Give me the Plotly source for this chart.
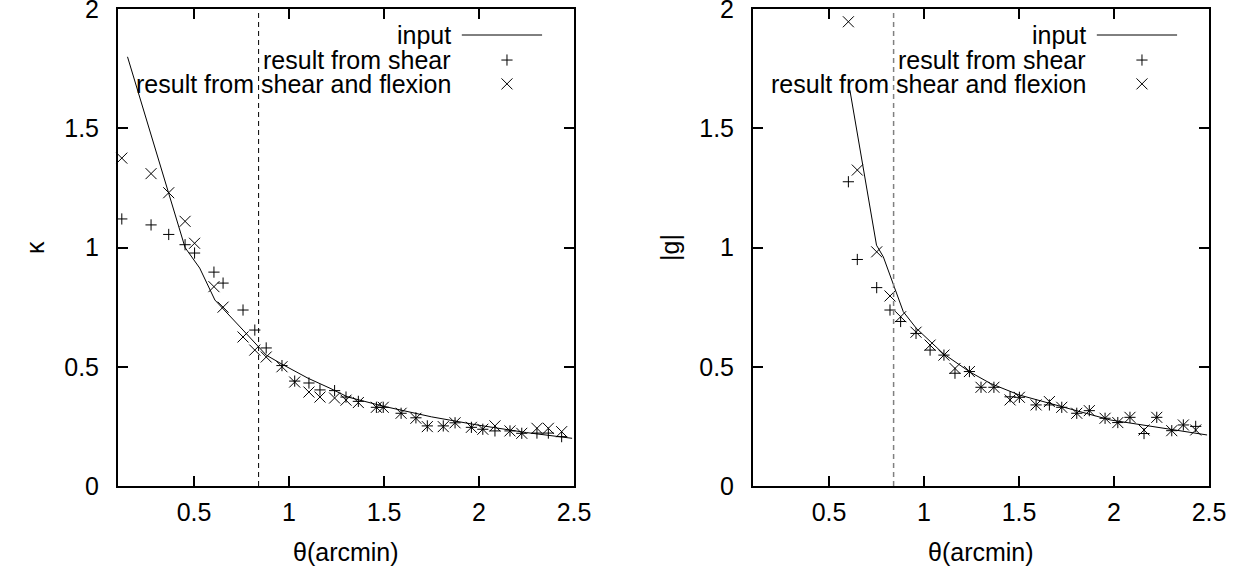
import plotly.graph_objects as go

# --- convergence profile (left panel) ---
theta_k = [0.12, 0.274, 0.367, 0.453, 0.503, 0.605, 0.653, 0.758, 0.82, 0.88, 0.963,
           1.03, 1.105, 1.163, 1.24, 1.30, 1.365, 1.46, 1.496, 1.59, 1.668, 1.728,
           1.812, 1.874, 1.96, 2.02, 2.084, 2.163, 2.225, 2.305, 2.365, 2.435]
kappa_shear = [1.12, 1.095, 1.055, 1.012, 0.977, 0.897, 0.851, 0.738, 0.654, 0.579, 0.505,
               0.44, 0.432, 0.403, 0.40, 0.373, 0.355, 0.33, 0.33, 0.305, 0.286, 0.252,
               0.252, 0.265, 0.246, 0.238, 0.231, 0.231, 0.221, 0.222, 0.222, 0.207]
kappa_flex = [1.375, 1.31, 1.23, 1.11, 1.018, 0.836, 0.75, 0.625, 0.57, 0.541, 0.5,
              0.436, 0.394, 0.373, 0.369, 0.36, 0.35, 0.33, 0.33, 0.305, 0.284, 0.249,
              0.249, 0.265, 0.246, 0.238, 0.252, 0.231, 0.221, 0.242, 0.242, 0.228]
theta_k_in = [0.15, 0.453, 0.53, 0.61, 0.758, 0.837, 0.88, 0.963, 1.1, 1.216, 1.31,
              1.5, 1.75, 1.99, 2.25, 2.49]
kappa_in = [1.80, 1.0, 0.914, 0.78, 0.654, 0.587, 0.549, 0.511, 0.452, 0.41, 0.373,
            0.334, 0.29, 0.256, 0.224, 0.2]

# --- reduced shear profile (right panel) ---
theta_g = [0.602, 0.649, 0.751, 0.821, 0.877, 0.958, 1.032, 1.105, 1.163, 1.239, 1.30,
           1.368, 1.453, 1.502, 1.59, 1.66, 1.725, 1.804, 1.87, 1.953, 2.02, 2.084,
           2.158, 2.225, 2.304, 2.365, 2.43]
g_shear = [1.276, 0.95, 0.832, 0.738, 0.69, 0.64, 0.57, 0.549, 0.473, 0.48, 0.414,
           0.414, 0.374, 0.372, 0.34, 0.34, 0.33, 0.305, 0.316, 0.284, 0.266, 0.288,
           0.22, 0.288, 0.232, 0.256, 0.25]
g_flex = [1.947, 1.325, 0.982, 0.797, 0.71, 0.645, 0.591, 0.549, 0.493, 0.48, 0.414,
          0.414, 0.361, 0.372, 0.34, 0.354, 0.33, 0.305, 0.316, 0.284, 0.266, 0.288,
          0.235, 0.288, 0.232, 0.256, 0.235]
theta_g_in = [0.61, 0.75, 0.786, 0.838, 0.891, 0.96, 1.10, 1.24, 1.35, 1.5, 1.98, 2.49]
g_in = [1.66, 1.01, 0.961, 0.843, 0.731, 0.661, 0.556, 0.479, 0.43, 0.382, 0.277, 0.214]

# Einstein-radius cut
theta_cut = 0.84

x_ticks = [0.5, 1, 1.5, 2, 2.5]
x_ticktext = ["0.5", "1", "1.5", "2", "2.5"]
y_ticks = [0, 0.5, 1, 1.5, 2]
y_ticktext = ["0", "0.5", "1", "1.5", "2"]

legend_labels = ["input", "result from shear", "result from shear and flexion"]

FONT = "Liberation Sans, Arial, Helvetica, sans-serif"
FS = 25
W, H = 1250, 570
PX_L = (118, 574)
PX_R = (753, 1209)
PY = (9, 486)  # top, bottom


def dom_x(px):
    return [px[0] / W, px[1] / W]


dom_y = [(H - PY[1]) / H, (H - PY[0]) / H]

fig = go.Figure()

plus = dict(symbol="cross-thin", size=8, line=dict(color="black", width=1), color="black")
cross = dict(symbol="x-thin", size=11, line=dict(color="black", width=1), color="black")


def add_panel(xa, ya, th_in, v_in, th, v_shear, v_flex):
    fig.add_trace(go.Scatter(x=th_in, y=v_in, mode="lines", xaxis=xa, yaxis=ya,
                             line=dict(color="black", width=1), showlegend=False,
                             cliponaxis=False))
    fig.add_trace(go.Scatter(x=th, y=v_shear, mode="markers", xaxis=xa, yaxis=ya,
                             marker=plus, showlegend=False, cliponaxis=False))
    fig.add_trace(go.Scatter(x=th, y=v_flex, mode="markers", xaxis=xa, yaxis=ya,
                             marker=cross, showlegend=False, cliponaxis=False))


add_panel("x", "y", theta_k_in, kappa_in, theta_k, kappa_shear, kappa_flex)
add_panel("x2", "y2", theta_g_in, g_in, theta_g, g_shear, g_flex)

# key samples drawn on overlay axes spanning [0, 1] of each panel
key_rows = [0.9455, 0.893, 0.843]
key_sym_x = 0.853
for xa, ya in (("x3", "y3"), ("x4", "y4")):
    fig.add_trace(go.Scatter(x=[0.754, 0.93], y=[key_rows[0]] * 2, mode="lines",
                             xaxis=xa, yaxis=ya, line=dict(color="black", width=1),
                             showlegend=False, cliponaxis=False))
    fig.add_trace(go.Scatter(x=[key_sym_x], y=[key_rows[1]], mode="markers",
                             xaxis=xa, yaxis=ya, marker=plus, showlegend=False,
                             cliponaxis=False))
    fig.add_trace(go.Scatter(x=[key_sym_x], y=[key_rows[2]], mode="markers",
                             xaxis=xa, yaxis=ya, marker=cross, showlegend=False,
                             cliponaxis=False))

axis_common = dict(
    showline=True, linecolor="black", linewidth=2, mirror="allticks",
    ticks="inside", ticklen=10, tickwidth=1.5, tickcolor="black",
    showgrid=False, zeroline=False, automargin=False,
    ticklabeloverflow="allow",
    tickfont=dict(family=FONT, size=FS, color="black"),
)
xcommon = dict(axis_common, range=[0.1, 2.5], tickvals=x_ticks, ticktext=x_ticktext,
               ticklabelstandoff=3)
ycommon = dict(axis_common, range=[0, 2.0005], tickvals=y_ticks, ticktext=y_ticktext,
               ticklabelstandoff=12)
hidden = dict(visible=False, range=[0, 1], fixedrange=True, automargin=False)

fig.update_layout(
    width=W, height=H,
    margin=dict(l=0, r=0, t=0, b=0, autoexpand=False),
    paper_bgcolor="white", plot_bgcolor="rgba(0,0,0,0)",
    showlegend=False,
    xaxis=dict(xcommon, domain=dom_x(PX_L), anchor="y"),
    yaxis=dict(ycommon, domain=dom_y, anchor="x"),
    xaxis2=dict(xcommon, domain=dom_x(PX_R), anchor="y2"),
    yaxis2=dict(ycommon, domain=dom_y, anchor="x2"),
    xaxis3=dict(hidden, domain=dom_x(PX_L), anchor="y3", overlaying="x"),
    yaxis3=dict(hidden, domain=dom_y, anchor="x3", overlaying="y"),
    xaxis4=dict(hidden, domain=dom_x(PX_R), anchor="y4", overlaying="x2"),
    yaxis4=dict(hidden, domain=dom_y, anchor="x4", overlaying="y2"),
)

# cut lines
fig.add_shape(type="line", xref="x", yref="y domain", x0=theta_cut, x1=theta_cut,
              y0=0, y1=1, line=dict(color="black", width=1, dash="5px,4px"))
fig.add_shape(type="line", xref="x2", yref="y2 domain", x0=theta_cut, x1=theta_cut,
              y0=0, y1=1, line=dict(color="#808080", width=1.5, dash="5px,4px"))

annotations = []
for xr, yr in (("x3 domain", "y3 domain"), ("x4 domain", "y4 domain")):
    for label, yrow in zip(legend_labels, key_rows):
        annotations.append(dict(text=label, xref=xr, yref=yr, x=0.735, y=yrow,
                                xanchor="right", yanchor="middle", showarrow=False,
                                font=dict(family=FONT, size=FS, color="black")))

title_font = dict(family=FONT, size=FS, color="black")
for cx in (sum(PX_L) / 2, sum(PX_R) / 2):
    annotations.append(dict(text="θ(arcmin)", xref="paper", yref="paper",
                            x=cx / W, y=(H - 552) / H, xanchor="center",
                            yanchor="middle", showarrow=False, font=title_font))
annotations.append(dict(text="κ", xref="paper", yref="paper", x=35 / W,
                        y=(H - 248) / H, xanchor="center", yanchor="middle",
                        textangle=-90, showarrow=False, font=title_font))
annotations.append(dict(text="|g|", xref="paper", yref="paper", x=670 / W,
                        y=(H - 248) / H, xanchor="center", yanchor="middle",
                        textangle=-90, showarrow=False, font=title_font))
fig.update_layout(annotations=annotations)

fig.write_html("out.html")
